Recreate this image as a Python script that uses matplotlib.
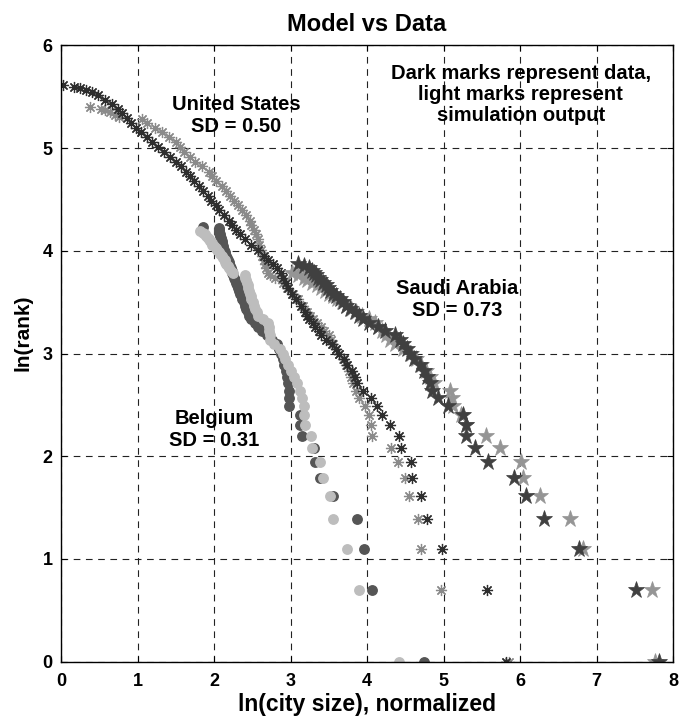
import numpy as np
import matplotlib
matplotlib.use("Agg")
import matplotlib.pyplot as plt

plt.rcParams['font.family'] = ['Liberation Sans', 'DejaVu Sans']
plt.rcParams['font.weight'] = 'bold'

# ---------------- data (rank, ln(city size) normalized) ----------------
us_data_rank = [1, 2, 3, 4, 5, 6, 7, 8, 9, 10, 11, 12, 13, 14, 15, 16, 17, 18, 19, 20,
                21, 22, 23, 24, 25, 26, 27, 28, 29, 30, 32, 34, 36, 38, 40, 42, 44, 46, 48, 50,
                52, 55, 58, 61, 64, 67, 70, 73, 77, 81, 85, 89, 93, 98, 103, 108, 113, 118, 124, 130,
                136, 143, 150, 157, 165, 173, 181, 190, 199, 208, 218, 228, 238, 249, 255, 260, 265,
                270, 275]
us_data_x = [5.82, 5.57, 4.98, 4.79, 4.71, 4.59, 4.57, 4.45, 4.42, 4.30, 4.19, 4.13, 4.05, 3.95, 3.87,
             3.84, 3.80, 3.74, 3.70, 3.63,
             3.59, 3.54, 3.47, 3.40, 3.37, 3.32, 3.29, 3.24, 3.21, 3.19, 3.14, 3.07, 3.02, 2.97, 2.94,
             2.90, 2.87, 2.83, 2.77, 2.71,
             2.66, 2.58, 2.48, 2.40, 2.34, 2.29, 2.24, 2.20, 2.13, 2.07, 2.02, 1.96, 1.92, 1.86, 1.80,
             1.74, 1.68, 1.63, 1.57, 1.50,
             1.43, 1.35, 1.27, 1.19, 1.12, 1.04, 0.98, 0.92, 0.86, 0.80, 0.74, 0.67, 0.58, 0.48, 0.40,
             0.33, 0.25, 0.17, 0.03]

us_sim_rank = [1, 2, 3, 4, 5, 6, 7, 8, 9, 10, 11, 12, 13, 14, 15, 16, 17, 18, 19, 20,
               21, 22, 23, 24, 25, 26, 27, 28, 29, 30, 32, 34, 36, 38, 40, 42, 43, 44, 46, 48, 50,
               52, 55, 58, 61, 64, 67, 70, 73, 77, 81, 85, 89, 93, 98, 103, 108, 113, 118, 124, 130,
               136, 143, 150, 157, 165, 173, 181, 190, 196, 200, 205, 210, 214, 218, 221]
us_sim_x = [5.85, 4.97, 4.70, 4.67, 4.55, 4.50, 4.41, 4.32, 4.06, 4.05, 4.02, 3.97, 3.90, 3.86, 3.82,
            3.79, 3.77, 3.72, 3.68, 3.64,
            3.60, 3.56, 3.53, 3.50, 3.44, 3.40, 3.35, 3.30, 3.26, 3.22, 3.16, 3.10, 3.03, 2.96, 2.90,
            2.80, 2.73, 2.70, 2.68, 2.67, 2.65,
            2.63, 2.61, 2.59, 2.57, 2.55, 2.52, 2.49, 2.47, 2.42, 2.37, 2.32, 2.26, 2.21, 2.16, 2.11,
            2.02, 1.97, 1.93, 1.84, 1.75,
            1.68, 1.61, 1.55, 1.50, 1.41, 1.32, 1.23, 1.13, 1.06, 0.76, 0.70, 0.64, 0.58, 0.52, 0.38]

sa_data_x = [7.82, 7.52, 6.77, 6.31, 6.08, 5.92, 5.58, 5.41, 5.30, 5.30, 5.26, 5.06, 4.93, 4.85, 4.82,
             4.78, 4.74, 4.69, 4.62, 4.56, 4.52, 4.47, 4.43, 4.36, 4.24, 4.14, 4.03, 3.95, 3.90, 3.84,
             3.78, 3.73, 3.69, 3.65, 3.60, 3.56, 3.52, 3.49, 3.46, 3.42, 3.39, 3.36, 3.33, 3.31, 3.28,
             3.24, 3.18, 3.10]
sa_sim_x = [7.77, 7.72, 6.83, 6.65, 6.26, 6.04, 6.01, 5.74, 5.56, 5.29, 5.23, 5.13, 5.11, 5.08, 4.87,
            4.82, 4.77, 4.70, 4.64, 4.57, 4.47, 4.37, 4.30, 4.25, 4.20, 4.15, 4.10, 4.02, 3.93, 3.86,
            3.79, 3.72, 3.67, 3.61, 3.55, 3.50, 3.45, 3.40, 3.34, 3.28, 3.22, 3.17, 3.10, 3.02]

be_data_x = [4.75, 4.07, 3.96, 3.87, 3.56, 3.39, 3.32, 3.31, 3.15, 3.13, 3.12, 2.98, 2.98, 2.98, 2.97,
             2.96, 2.94, 2.92, 2.90, 2.88, 2.85, 2.82, 2.76, 2.69, 2.63, 2.58, 2.54, 2.49, 2.46, 2.44,
             2.42, 2.41, 2.39, 2.37, 2.36, 2.34, 2.33, 2.31, 2.30, 2.29, 2.28, 2.26, 2.25, 2.24, 2.23,
             2.22, 2.21, 2.20, 2.19, 2.18, 2.17, 2.16, 2.15, 2.14, 2.13, 2.12, 2.12, 2.11, 2.10, 2.10,
             2.09, 2.09, 2.08, 2.08, 2.07, 2.07, 2.06, 2.06, 1.86]
be_sim_x = [4.42, 3.89, 3.74, 3.56, 3.51, 3.42, 3.39, 3.28, 3.27, 3.19, 3.17, 3.17, 3.15, 3.12, 3.09,
            3.05, 3.01, 2.97, 2.93, 2.90, 2.86, 2.78, 2.73, 2.73, 2.72, 2.72, 2.71, 2.64, 2.58, 2.56,
            2.54, 2.52, 2.51, 2.49, 2.49, 2.47, 2.46, 2.45, 2.44, 2.43, 2.42, 2.41, 2.40, 2.25, 2.22,
            2.20, 2.18, 2.16, 2.15, 2.14, 2.12, 2.10, 2.08, 2.06, 2.04, 2.02, 2.00, 1.98, 1.97, 1.95,
            1.94, 1.92, 1.90, 1.88, 1.85, 1.82]

x_ticks = [0, 1, 2, 3, 4, 5, 6, 7, 8]
y_ticks = [0, 1, 2, 3, 4, 5, 6]

# ---------------- colours ----------------
c_us_d, c_us_s = '#2e2e2e', '#8a8a8a'
c_sa_d, c_sa_s = '#404040', '#959595'
c_be_d, c_be_s = '#555555', '#bdbdbd'

fig = plt.figure(figsize=(6.8, 7.19), dpi=100)
ax = fig.add_axes([61 / 680, (719 - 661.7) / 719, 612 / 680, 616.4 / 719])

asterisk = (8, 2, 0)

def lnrank(r):
    return np.log(np.asarray(r, dtype=float))

# Belgium
ax.plot(be_data_x, lnrank(np.arange(1, len(be_data_x) + 1)), linestyle='none', marker='o',
        ms=6.8, mfc=c_be_d, mec=c_be_d, zorder=3)
ax.plot(be_sim_x, lnrank(np.arange(1, len(be_sim_x) + 1)), linestyle='none', marker='o',
        ms=6.8, mfc=c_be_s, mec=c_be_s, zorder=3)
# United States
ax.plot(us_sim_x, lnrank(us_sim_rank), linestyle='none', marker=asterisk, ms=8,
        mec=c_us_s, mew=0.9, zorder=3)
ax.plot(us_data_x, lnrank(us_data_rank), linestyle='none', marker=asterisk, ms=8,
        mec=c_us_d, mew=0.9, zorder=3)
# Saudi Arabia
ax.plot(sa_sim_x, lnrank(np.arange(1, len(sa_sim_x) + 1)), linestyle='none', marker='*',
        ms=12.5, mfc=c_sa_s, mec=c_sa_s, mew=0.5, zorder=3)
ax.plot(sa_data_x, lnrank(np.arange(1, len(sa_data_x) + 1)), linestyle='none', marker='*',
        ms=12.5, mfc=c_sa_d, mec=c_sa_d, mew=0.5, zorder=3)

ax.set_xlim(0, 8)
ax.set_ylim(0, 6)
ax.set_xticks(x_ticks)
ax.set_yticks(y_ticks)
ax.set_xticklabels([str(t) for t in x_ticks], fontsize=13, fontweight='bold')
ax.set_yticklabels([str(t) for t in y_ticks], fontsize=13, fontweight='bold')
ax.tick_params(direction='in', length=4, width=0.8, top=True, right=True)
ax.tick_params(axis='x', pad=8)
ax.tick_params(axis='y', pad=6)
ax.grid(True, color='#222222', linestyle=(0, (6, 5)), linewidth=0.8)
for s in ax.spines.values():
    s.set_linewidth(1.0)
    s.set_zorder(5)

ax.set_xlabel('ln(city size), normalized', fontsize=16.5, fontweight='bold', labelpad=2)
ax.set_ylabel('ln(rank)', fontsize=15, fontweight='bold')
ax.yaxis.set_label_coords(-0.046, 0.533)
ax.set_title('Model vs Data', fontsize=17, fontweight='bold', pad=10)

ax.text(2.29, 5.315, 'United States\nSD = 0.50', ha='center', va='center', fontsize=14.5,
        fontweight='bold', zorder=6, linespacing=1.2)
ax.text(5.18, 3.53, 'Saudi Arabia\nSD = 0.73', ha='center', va='center', fontsize=14.5,
        fontweight='bold', zorder=6, linespacing=1.2)
ax.text(2.0, 2.26, 'Belgium\nSD = 0.31', ha='center', va='center', fontsize=14.5,
        fontweight='bold', zorder=6, linespacing=1.2)
ax.text(6.01, 5.52, 'Dark marks represent data,\nlight marks represent\nsimulation output',
        ha='center', va='center', fontsize=14.5, fontweight='bold', zorder=6, linespacing=1.12)

fig.savefig('out.png', dpi=100)
